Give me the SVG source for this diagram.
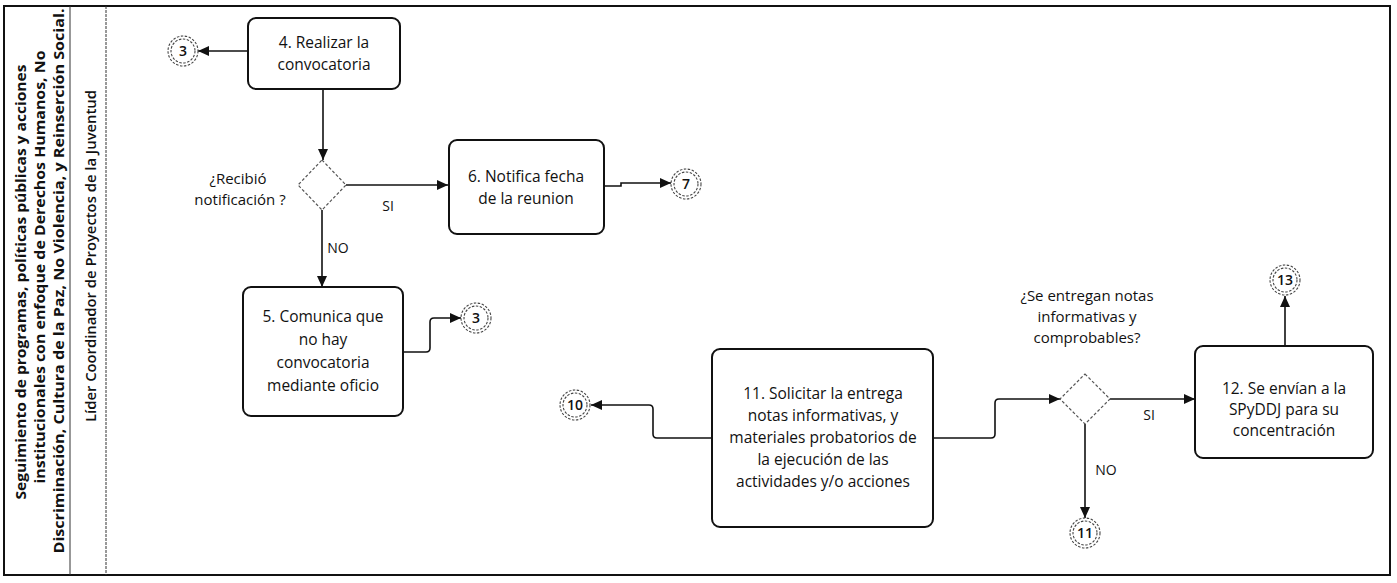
<svg xmlns="http://www.w3.org/2000/svg" width="1397" height="583" viewBox="0 0 1397 583">
<style>
text{font-family:"Open Sans","Noto Sans","Liberation Sans",sans-serif;fill:#111}
.t{font-size:15.5px;text-anchor:middle}
.q{font-size:15px;text-anchor:middle}
.lab{font-size:14px;text-anchor:middle}
.num{font-size:14px;text-anchor:middle;font-weight:600}
.box{fill:#fff;stroke:#111;stroke-width:2}
.dia{fill:#fff;stroke:#555;stroke-width:1.2;stroke-dasharray:3 2}
.ev{fill:none;stroke:#444;stroke-width:1.1;stroke-dasharray:2.5 1.5}
.con{fill:none;stroke:#111;stroke-width:1.6}
.lane{font-size:13.5px;font-weight:700;text-anchor:middle}
</style>
<defs>
<marker id="ah" markerUnits="userSpaceOnUse" markerWidth="11" markerHeight="10" refX="11" refY="5" orient="auto">
<path d="M0,0 L11,5 L0,10 z" fill="#111"/>
</marker>
</defs>
<rect width="1397" height="583" fill="#fff"/>
<g id="frame">
<rect x="4" y="6" width="1386" height="569" fill="none" stroke="#111" stroke-width="2"/>
<line x1="70" y1="6" x2="70" y2="575" stroke="#333" stroke-width="1"/>
<line x1="106" y1="6" x2="106" y2="575" stroke="#333" stroke-width="1" stroke-dasharray="3 1"/>
<text class="lane" transform="translate(26,282) rotate(-90)" textLength="435" lengthAdjust="spacingAndGlyphs">Seguimiento de programas, políticas públicas y acciones</text>
<text class="lane" transform="translate(45,267) rotate(-90)" textLength="433" lengthAdjust="spacingAndGlyphs">institucionales con enfoque de Derechos Humanos, No</text>
<text class="lane" transform="translate(64,281) rotate(-90)" textLength="545" lengthAdjust="spacingAndGlyphs">Discriminación, Cultura de la Paz, No Violencia, y Reinserción Social.</text>
<text transform="translate(96,256) rotate(-90)" style="font-size:15px;font-weight:600;text-anchor:middle" textLength="332" lengthAdjust="spacingAndGlyphs">Líder Coordinador de Proyectos de la Juventud</text>
</g>
<g id="connectors">
<path class="con" d="M248,51 H198" marker-end="url(#ah)"/>
<path class="con" d="M323,89 V160" marker-end="url(#ah)"/>
<path class="con" d="M346,185 H448" marker-end="url(#ah)"/>
<path class="con" d="M322,210 V287" marker-end="url(#ah)"/>
<path class="con" d="M604,186 H621 V183 H671" marker-end="url(#ah)"/>
<path class="con" d="M403,352 H426 Q430,352 430,348 V322 Q430,318 434,318 H461" marker-end="url(#ah)"/>
<path class="con" d="M712,438 H657 Q653,438 653,434 V409 Q653,405 649,405 H591" marker-end="url(#ah)"/>
<path class="con" d="M933,438 H991 Q995,438 995,434 V403 Q995,399 999,399 H1060" marker-end="url(#ah)"/>
<path class="con" d="M1110,399 H1195" marker-end="url(#ah)"/>
<path class="con" d="M1085,424 V518" marker-end="url(#ah)"/>
<path class="con" d="M1285,346 V296" marker-end="url(#ah)"/>
<text class="lab" x="388" y="211">SI</text>
<text class="lab" x="338" y="253">NO</text>
<text class="lab" x="1149" y="420">SI</text>
<text class="lab" x="1106" y="475">NO</text>
</g>
<g id="n4">
<rect class="box" x="248" y="18" width="152" height="71" rx="8"/>
<text class="t" x="324" y="47.5">4. Realizar la</text>
<text class="t" x="324" y="70">convocatoria</text>
</g>
<g id="e3a">
<circle class="ev" cx="183" cy="51" r="15"/>
<circle class="ev" cx="183" cy="51" r="12"/>
<text class="num" x="183" y="56">3</text>
</g>
<g id="d1">
<polygon class="dia" points="322,160 346,185 322,210 298,185"/>
<text class="q" x="238" y="184">¿Recibió</text>
<text class="q" x="240" y="205">notificación ?</text>
</g>
<g id="n6">
<rect class="box" x="449" y="140" width="155" height="94" rx="8"/>
<text class="t" x="526" y="181.5">6. Notifica fecha</text>
<text class="t" x="526" y="203.5">de la reunion</text>
</g>
<g id="e7">
<circle class="ev" cx="686" cy="184" r="15"/>
<circle class="ev" cx="686" cy="184" r="12"/>
<text class="num" x="686" y="189">7</text>
</g>
<g id="n5">
<rect class="box" x="243" y="287" width="160" height="129" rx="8"/>
<text class="t" x="323" y="322">5. Comunica que</text>
<text class="t" x="323" y="345">no hay</text>
<text class="t" x="323" y="368">convocatoria</text>
<text class="t" x="323" y="391">mediante oficio</text>
</g>
<g id="e3b">
<circle class="ev" cx="476" cy="318" r="15"/>
<circle class="ev" cx="476" cy="318" r="12"/>
<text class="num" x="476" y="323">3</text>
</g>
<g id="n11">
<rect class="box" x="712" y="349" width="221" height="178" rx="8"/>
<text class="t" x="823" y="399">11. Solicitar la entrega</text>
<text class="t" x="823" y="421">notas informativas, y</text>
<text class="t" x="823" y="443">materiales probatorios de</text>
<text class="t" x="823" y="465">la ejecución de las</text>
<text class="t" x="823" y="487">actividades y/o acciones</text>
</g>
<g id="e10">
<circle class="ev" cx="575" cy="405" r="15"/>
<circle class="ev" cx="575" cy="405" r="12"/>
<text class="num" x="575" y="410">10</text>
</g>
<g id="d2">
<polygon class="dia" points="1085,374 1110,399 1085,424 1060,399"/>
<text class="q" x="1087" y="301">¿Se entregan notas</text>
<text class="q" x="1087" y="322">informativas y</text>
<text class="q" x="1087" y="343">comprobables?</text>
</g>
<g id="n12">
<rect class="box" x="1195" y="346" width="178" height="112" rx="8"/>
<text class="t" x="1284" y="394">12. Se envían a la</text>
<text class="t" x="1284" y="415">SPyDDJ para su</text>
<text class="t" x="1284" y="436">concentración</text>
</g>
<g id="e11">
<circle class="ev" cx="1085" cy="533" r="15"/>
<circle class="ev" cx="1085" cy="533" r="12"/>
<text class="num" x="1085" y="538">11</text>
</g>
<g id="e13">
<circle class="ev" cx="1285" cy="280" r="15"/>
<circle class="ev" cx="1285" cy="280" r="12"/>
<text class="num" x="1285" y="285">13</text>
</g>
</svg>
